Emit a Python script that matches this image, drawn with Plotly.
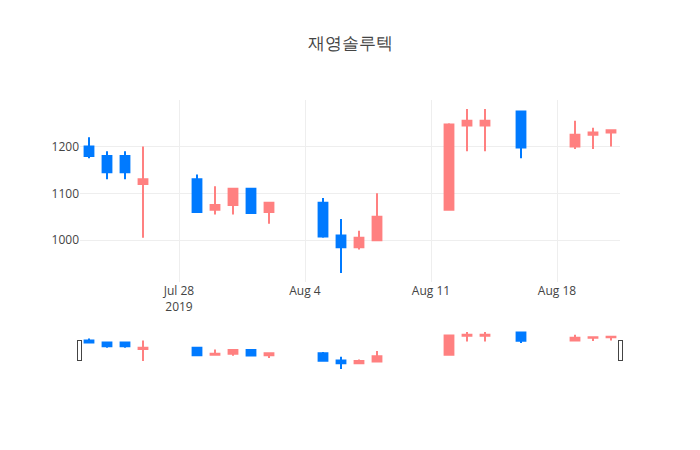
import plotly.graph_objects as go

# daily prices
dates = ["2019-07-23", "2019-07-24", "2019-07-25", "2019-07-26",
         "2019-07-29", "2019-07-30", "2019-07-31", "2019-08-01", "2019-08-02",
         "2019-08-05", "2019-08-06", "2019-08-07", "2019-08-08",
         "2019-08-12", "2019-08-13", "2019-08-14", "2019-08-16",
         "2019-08-19", "2019-08-20", "2019-08-21"]
open_ = [1200, 1180, 1180, 1120,
         1130, 1065, 1075, 1110, 1060,
         1080, 1010, 985, 1000,
         1065, 1245, 1245, 1275,
         1200, 1225, 1230]
high = [1220, 1190, 1190, 1200,
        1140, 1115, 1110, 1110, 1080,
        1090, 1045, 1020, 1100,
        1250, 1280, 1280, 1275,
        1255, 1240, 1235]
low = [1175, 1130, 1130, 1005,
       1058, 1055, 1055, 1058, 1035,
       1005, 930, 980, 1000,
       1065, 1190, 1190, 1175,
       1195, 1195, 1200]
close = [1180, 1145, 1145, 1130,
         1060, 1075, 1110, 1058, 1080,
         1008, 985, 1005, 1050,
         1247, 1255, 1255, 1198,
         1225, 1230, 1235]

fig = go.Figure(go.Candlestick(
    x=dates, open=open_, high=high, low=low, close=close,
    increasing=dict(line=dict(color="rgb(255,128,128)"), fillcolor="rgb(255,128,128)"),
    decreasing=dict(line=dict(color="rgb(0,122,255)"), fillcolor="rgb(0,122,255)"),
))

# page has an 8px body margin, so pull everything up/left a bit
fig.update_layout(
    template="none",
    title=dict(text="재영솔루텍", x=0.5, xref="paper",
               y=0.922, yref="container", yanchor="middle"),
    width=700, height=450,
    margin=dict(l=72, r=88, t=92, b=88),
    showlegend=False,
)

fig.write_html("out.html")
